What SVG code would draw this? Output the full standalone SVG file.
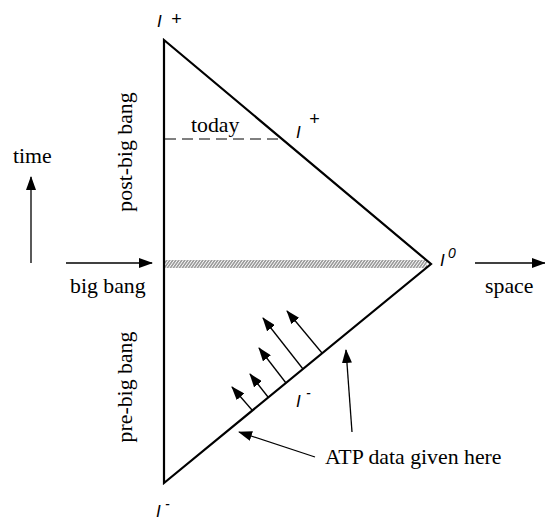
<svg xmlns="http://www.w3.org/2000/svg" width="545" height="520" viewBox="0 0 545 520">
<style>
.t{font-family:"Liberation Serif","Times New Roman",serif;font-size:21.8px;fill:#000}
.i{font-family:"Liberation Sans",Arial,sans-serif;font-style:italic;fill:#000}
.ar{stroke:#000;stroke-width:1.3;fill:none;marker-end:url(#ah)}
</style>
<defs>
<marker id="ah" markerUnits="userSpaceOnUse" markerWidth="14" markerHeight="10" viewBox="0 0 14 10" refX="13" refY="5" orient="auto">
<path d="M0,0 L14,5 L0,10 z" fill="#000"/>
</marker>
<pattern id="hatch" patternUnits="userSpaceOnUse" width="3" height="8" patternTransform="skewX(-35)">
<rect width="3" height="8" fill="#fff"/>
<line x1="1" y1="0" x2="1" y2="8" stroke="#666" stroke-width="1.3"/>
</pattern>
</defs>
<rect width="545" height="520" fill="#fff"/>
<g id="band"><rect x="165" y="260" width="262" height="8" fill="url(#hatch)"/></g>
<g id="diagram">
<polygon points="164,40 431,264 164,483" fill="none" stroke="#000" stroke-width="2.2" stroke-linejoin="miter"/>
<line x1="165" y1="139" x2="282" y2="139" stroke="#000" stroke-width="1" stroke-dasharray="11,6"/>
</g>
<g id="connectors">
<line class="ar" x1="31" y1="263" x2="31" y2="177"/>
<line class="ar" x1="66" y1="263" x2="152" y2="263"/>
<line class="ar" x1="475" y1="263" x2="545" y2="263"/>
<line class="ar" x1="252" y1="410" x2="232" y2="387"/>
<line class="ar" x1="268" y1="397" x2="250" y2="374"/>
<line class="ar" x1="286" y1="383" x2="259" y2="348"/>
<line class="ar" x1="303" y1="369" x2="263" y2="318"/>
<line class="ar" x1="322" y1="353" x2="287" y2="311"/>
<line class="ar" x1="352" y1="432" x2="346" y2="350"/>
<line class="ar" x1="315" y1="457" x2="239" y2="432"/>
</g>
<g id="labels">
<text class="t" x="191" y="132">today</text>
<text class="t" x="13" y="163">time</text>
<text class="t" x="70" y="293">big bang</text>
<text class="t" x="485" y="293">space</text>
<text class="t" x="325" y="464">ATP data given here</text>
<text class="t" transform="translate(132,152) rotate(-90)" text-anchor="middle">post-big bang</text>
<text class="t" transform="translate(132,387) rotate(-90)" text-anchor="middle">pre-big bang</text>
</g>
<g id="scri">
<text class="i" x="157" y="27" font-size="17">I</text><text class="i" x="171" y="24.5" font-size="18">+</text>
<text class="i" x="296" y="138" font-size="17">I</text><text class="i" x="309" y="125" font-size="18">+</text>
<text class="i" x="440" y="266" font-size="17">I</text><text class="i" x="448" y="258" font-size="14">0</text>
<text class="i" x="296" y="407" font-size="17">I</text><text class="i" x="306" y="398" font-size="14">-</text>
<text class="i" x="156" y="517" font-size="17">I</text><text class="i" x="165" y="509" font-size="14">-</text>
</g>
</svg>
